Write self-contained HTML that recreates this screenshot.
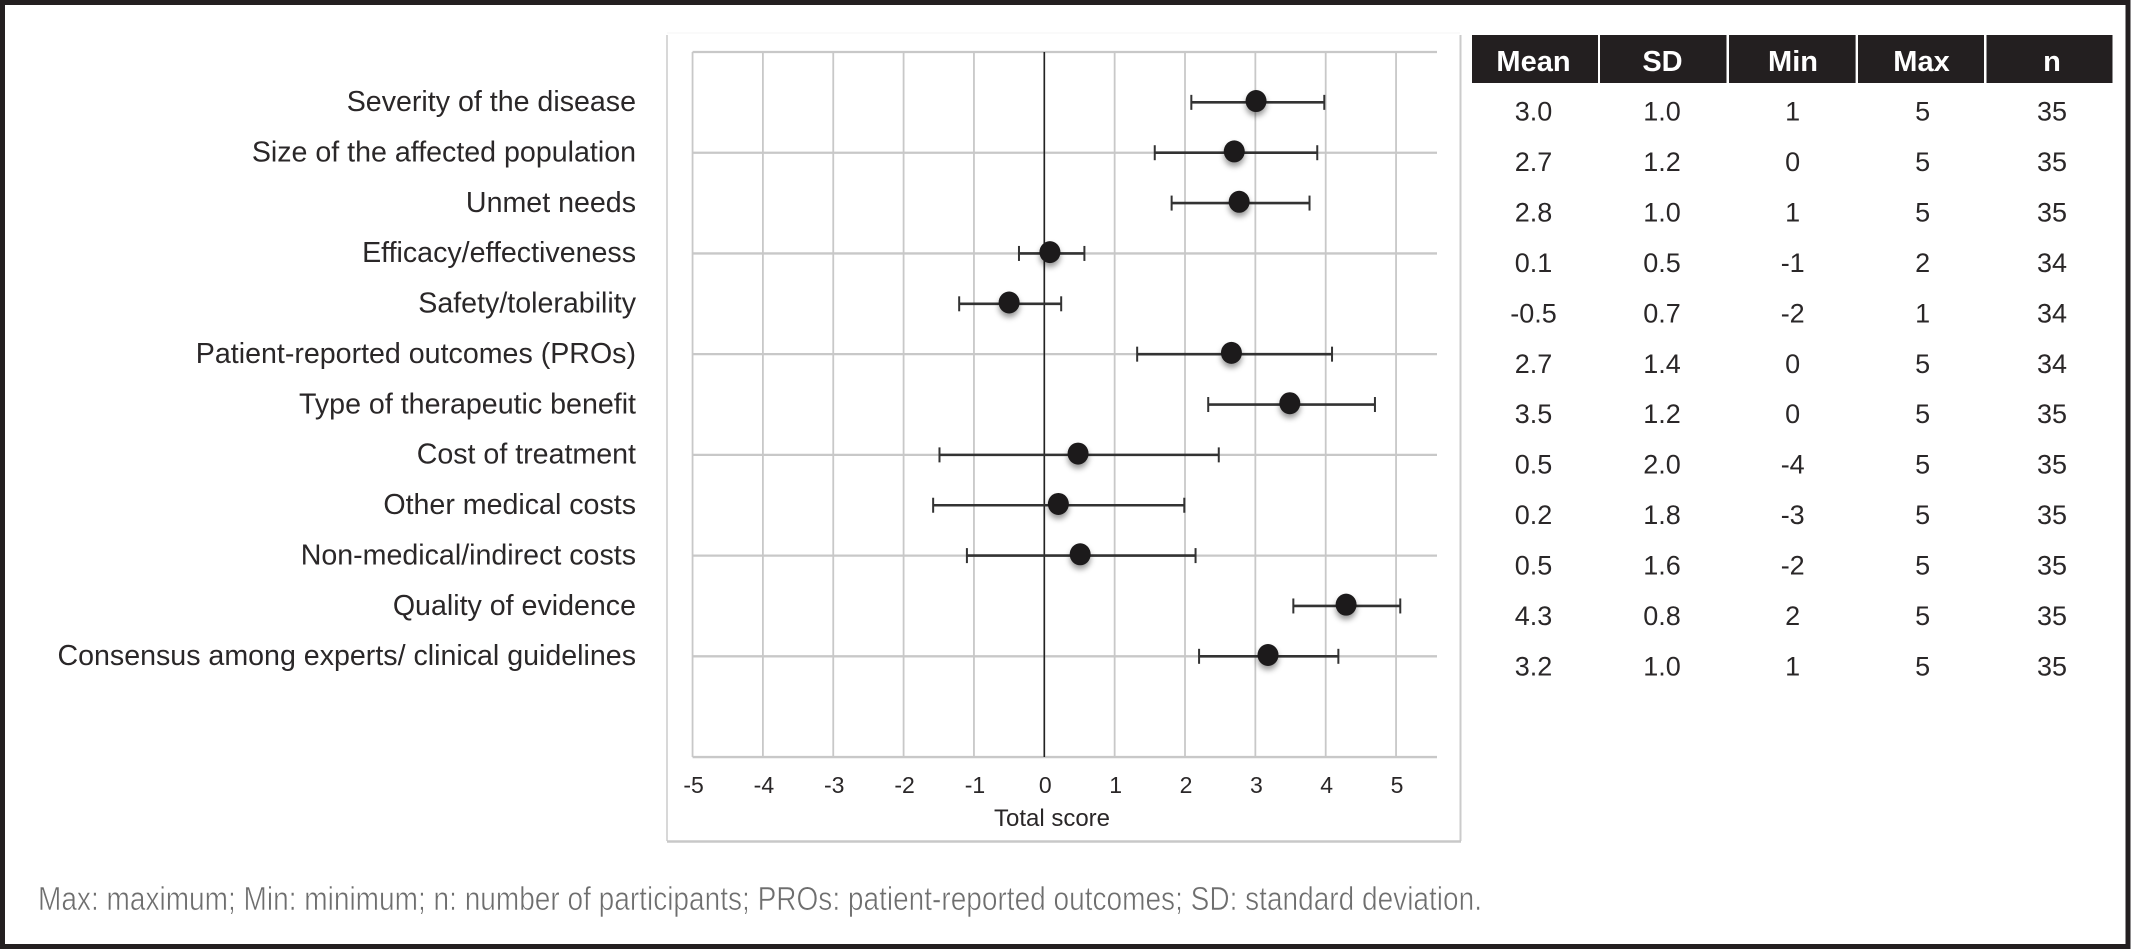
<!DOCTYPE html>
<html lang="en">
<head>
<meta charset="utf-8">
<title>Total score forest plot with summary table</title>
<style>
  html, body { margin: 0; padding: 0; background: #fff; }
  body { width: 2131px; height: 949px; overflow: hidden; }
  svg { display: block; font-family: "Liberation Sans", Arial, sans-serif; }
  text { fill: #2a2728; }
</style>
</head>
<body>
<svg id="figure" width="2131" height="949" viewBox="0 0 2131 949" xmlns="http://www.w3.org/2000/svg">
  <rect x="0" y="0" width="2131" height="949" fill="#fff"/>
  <rect x="2.5" y="2.5" width="2125.5" height="944" fill="none" stroke="#231f20" stroke-width="5"/>
  <g fill="none">
    <path d="M667 33H1460" stroke="#f8f8f8" stroke-width="1.5"/>
    <path d="M667 35V841" stroke="#cbcbcb" stroke-width="1.5"/>
    <path d="M1460.5 35V841" stroke="#cbcbcb" stroke-width="2"/>
    <path d="M667 841.5H1461" stroke="#c8c8c8" stroke-width="2.5"/>
  </g>
  <g id="grid"></g>
  <g id="y-labels"></g>
  <g id="x-ticks"></g>
  <line x1="1044.3" y1="52" x2="1044.3" y2="757" stroke="#222" stroke-width="1.6"/>
  <g id="series"></g>
  <text x="1052" y="826" font-size="24" text-anchor="middle">Total score</text>
  <g id="stats-table"></g>
  <text x="38" y="910" font-size="33" textLength="1444" lengthAdjust="spacingAndGlyphs" style="fill:#6e6e6e;stroke:#fff;stroke-width:.6">Max: maximum; Min: minimum; n: number of participants; PROs: patient-reported outcomes; SD: standard deviation.</text>
</svg>
<script>
const categories = ["Severity of the disease", "Size of the affected population", "Unmet needs", "Efficacy/effectiveness", "Safety/tolerability", "Patient-reported outcomes (PROs)", "Type of therapeutic benefit", "Cost of treatment", "Other medical costs", "Non-medical/indirect costs", "Quality of evidence", "Consensus among experts/ clinical guidelines"];
const means = [3.01, 2.70, 2.77, 0.08, -0.50, 2.66, 3.49, 0.48, 0.20, 0.51, 4.29, 3.18];
const errorLow = [2.09, 1.57, 1.81, -0.36, -1.21, 1.32, 2.33, -1.49, -1.58, -1.10, 3.54, 2.20];
const errorHigh = [3.98, 3.88, 3.77, 0.57, 0.24, 4.09, 4.70, 2.48, 1.99, 2.15, 5.06, 4.18];
const xTickLabels = [-5, -4, -3, -2, -1, 0, 1, 2, 3, 4, 5];
const yGridSteps = [0, 2, 4, 6, 8, 10, 12, 14];
const tableHeaders = ["Mean", "SD", "Min", "Max", "n"];
const tableMean = ["3.0", "2.7", "2.8", "0.1", "-0.5", "2.7", "3.5", "0.5", "0.2", "0.5", "4.3", "3.2"];
const tableSD = ["1.0", "1.2", "1.0", "0.5", "0.7", "1.4", "1.2", "2.0", "1.8", "1.6", "0.8", "1.0"];
const tableMin = ["1", "0", "1", "-1", "-2", "0", "0", "-4", "-3", "-2", "2", "1"];
const tableMax = ["5", "5", "5", "2", "1", "5", "5", "5", "5", "5", "5", "5"];
const tableN = ["35", "35", "35", "34", "34", "34", "35", "35", "35", "35", "35", "35"];

const NS = "http://www.w3.org/2000/svg";
const xScale = v => 1044.3 + v * 70.35;
const yScale = step => 52 + step * 50.36;
function make(tag, attrs, parent, content) {
  const el = document.createElementNS(NS, tag);
  for (const k in attrs) el.setAttribute(k, attrs[k]);
  if (content !== undefined) el.textContent = content;
  parent.appendChild(el);
  return el;
}
const slug = s => String(s).toLowerCase().replace(/[^a-z0-9]+/g, "-").replace(/^-|-$/g, "");

const grid = document.getElementById("grid");
xTickLabels.forEach(t => {
  const gl = make("line", {x1: xScale(t), x2: xScale(t), y1: yScale(0), y2: yScale(14), stroke: "#c8c8c8", "stroke-width": 1.8}, grid);
  
  
});
yGridSteps.forEach(s => {
  const gl = make("line", {x1: xScale(-5), x2: 1437, y1: yScale(s), y2: yScale(s), stroke: "#c8c8c8", "stroke-width": 2.3}, grid);
  
  
});

const xTicks = document.getElementById("x-ticks");
xTickLabels.forEach(t => {
  const lab = make("text", {x: xScale(t) + 1, y: 793, "font-size": 23, "text-anchor": "middle"}, xTicks, String(t));
  
  
});

const yLabels = document.getElementById("y-labels");
categories.forEach((c, i) => {
  const lab = make("text", {x: 636, y: yScale(i + 1) + 8.8, "font-size": 28.6, "text-anchor": "end"}, yLabels, c);
  
  
});

const series = document.getElementById("series");
categories.forEach((c, i) => {
  const y = yScale(i + 1);
  const g = make("g", {}, series);
  
  
  const bar = make("line", {x1: xScale(errorLow[i]), x2: xScale(errorHigh[i]), y1: y, y2: y, stroke: "#333", "stroke-width": 2.6}, g);
  
  
  const capL = make("line", {x1: xScale(errorLow[i]), x2: xScale(errorLow[i]), y1: y - 7.5, y2: y + 7.5, stroke: "#333", "stroke-width": 2}, g);
  
  
  const capH = make("line", {x1: xScale(errorHigh[i]), x2: xScale(errorHigh[i]), y1: y - 7.5, y2: y + 7.5, stroke: "#333", "stroke-width": 2}, g);
  
  
  const dot = make("ellipse", {cx: xScale(means[i]), cy: y - 1.3, rx: 10.5, ry: 11, fill: "#1c1a1b", style: "filter:drop-shadow(0 4px 3px rgba(0,0,0,.4))"}, g);
  
  
});

const tableEl = document.getElementById("stats-table");
const headerCentres = [1533.5, 1662.5, 1793, 1921.5, 2052];
const colCentres = [1533.5, 1662, 1792.7, 1922.7, 2052];
const colRects = [[1472, 126], [1600, 126.5], [1729, 126.6], [1858, 126], [1986.5, 126]];
const tableColumns = [tableMean, tableSD, tableMin, tableMax, tableN];
tableHeaders.forEach((h, j) => {
  const r = make("rect", {x: colRects[j][0], y: 35, width: colRects[j][1], height: 48, fill: "#231f20"}, tableEl);
  
  
  const t = make("text", {x: headerCentres[j], y: 71, "font-size": 29, "font-weight": "bold", "text-anchor": "middle", style: "fill:#fff"}, tableEl, h);
  
  
});
tableColumns.forEach((col, j) => {
  col.forEach((v, i) => {
    const t = make("text", {x: colCentres[j], y: 120.5 + i * 50.45, "font-size": 27, "text-anchor": "middle"}, tableEl, v);
    
    
  });
});
</script>
</body>
</html>
